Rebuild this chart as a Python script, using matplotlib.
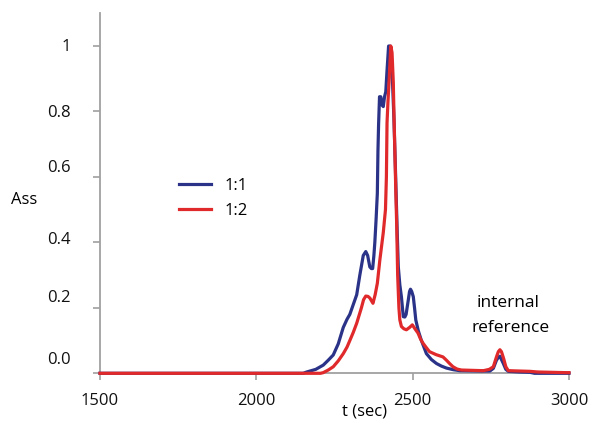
import matplotlib
matplotlib.use('Agg')
import matplotlib.pyplot as plt

plt.rcParams['font.family'] = ['Open Sans', 'DejaVu Sans']

# curve 1:1 (blue)
t_11 = [1500, 2150, 2161, 2190, 2214, 2230, 2246, 2262, 2278, 2290, 2299, 2310,
        2321, 2331, 2342, 2350, 2356, 2363, 2368, 2372, 2376, 2379, 2383, 2387,
        2389, 2391, 2394, 2398, 2402, 2406, 2410, 2414, 2418, 2423, 2428, 2432,
        2436, 2440, 2445, 2450, 2454, 2459, 2464, 2470, 2475, 2479, 2486, 2490,
        2493, 2497, 2502, 2506, 2510, 2518, 2528, 2536, 2544, 2560, 2576, 2592,
        2608, 2630, 2651, 2715, 2747, 2758, 2768, 2775, 2779, 2785, 2790, 2798,
        2806, 2840, 2875, 2890, 3000]
a_11 = [0, 0, 0.004, 0.012, 0.025, 0.04, 0.056, 0.09, 0.14, 0.165, 0.18, 0.21,
        0.24, 0.30, 0.36, 0.372, 0.36, 0.325, 0.32, 0.32, 0.36, 0.40, 0.47, 0.55,
        0.68, 0.76, 0.845, 0.845, 0.82, 0.815, 0.845, 0.86, 0.925, 1.0, 1.0, 0.96,
        0.88, 0.78, 0.62, 0.45, 0.326, 0.27, 0.234, 0.173, 0.172, 0.18, 0.224, 0.25,
        0.257, 0.25, 0.234, 0.2, 0.163, 0.13, 0.10, 0.08, 0.06, 0.042, 0.03, 0.022,
        0.016, 0.011, 0.008, 0.007, 0.007, 0.015, 0.04, 0.05, 0.052, 0.04, 0.03, 0.012,
        0.006, 0.004, 0.003, 0, 0]

# curve 1:2 (red)
t_12 = [1500, 2205, 2214, 2230, 2246, 2262, 2278, 2290, 2299, 2310, 2321, 2336,
        2343, 2350, 2357, 2363, 2368, 2373, 2380, 2387, 2395, 2406, 2413, 2416,
        2418, 2421, 2425, 2430, 2434, 2438, 2440, 2443, 2446, 2449, 2452, 2456,
        2459, 2464, 2472, 2480, 2490, 2499, 2508, 2517, 2525, 2533, 2544, 2554,
        2575, 2597, 2608, 2618, 2629, 2642, 2656, 2690, 2726, 2745, 2758, 2763,
        2768, 2774, 2779, 2784, 2791, 2798, 2806, 2840, 2875, 2900, 2990, 3000]
a_12 = [0, 0, 0.002, 0.01, 0.02, 0.038, 0.06, 0.08, 0.10, 0.125, 0.153, 0.20,
        0.225, 0.236, 0.235, 0.23, 0.222, 0.214, 0.24, 0.275, 0.346, 0.43, 0.5, 0.6,
        0.765, 0.83, 0.9, 1.0, 0.98, 0.89, 0.8, 0.68, 0.56, 0.45, 0.30, 0.2,
        0.163, 0.143, 0.136, 0.133, 0.14, 0.148, 0.135, 0.123, 0.105, 0.092, 0.078, 0.066,
        0.057, 0.05, 0.04, 0.03, 0.02, 0.013, 0.01, 0.009, 0.008, 0.012, 0.02, 0.035,
        0.05, 0.066, 0.072, 0.066, 0.045, 0.02, 0.008, 0.007, 0.006, 0.004, 0.002, 0.002]

x_ticks = [1500, 2000, 2500, 3000]
y_ticks = [0, 0.2, 0.4, 0.6, 0.8, 1.0]
y_labels = ['0.0', '0.2', '0.4', '0.6', '0.8', '1']
# where the y labels sit in the original (slightly off the ticks)
y_label_pos = [0.041, 0.229, 0.407, 0.626, 0.794, 0.996]

blue = '#2b3388'
red = '#e0292b'
grey = '#a0a0a0'

fig = plt.figure(figsize=(5.9, 4.22), dpi=100)
ax = fig.add_axes([0.1695, 0.1154, 0.7949, 0.8531])

ax.plot(t_11, a_11, color=blue, lw=2.3, label='1:1', clip_on=False, zorder=3)
ax.plot(t_12, a_12, color=red, lw=2.3, label='1:2', clip_on=False, zorder=4)

ax.set_xlim(1500, 3000)
ax.set_ylim(0, 1.10)
ax.set_xticks(x_ticks)
ax.set_yticks(y_ticks)
ax.set_yticklabels([''] * len(y_ticks))
for v, lab in zip(y_label_pos, y_labels):
    ax.text(-0.0625, v, lab, transform=ax.get_yaxis_transform(),
            ha='right', va='center', fontsize=12, color='#111111')

for s in ['top', 'right']:
    ax.spines[s].set_visible(False)
for s in ['left', 'bottom']:
    ax.spines[s].set_color(grey)
    ax.spines[s].set_linewidth(1.3)
ax.tick_params(axis='both', direction='out', length=5, width=1.2, color=grey,
               labelsize=12, labelcolor='#111111')
ax.tick_params(axis='x', pad=9)

fig.text(23.7 / 590, 1 - 200 / 422, 'Ass', ha='center', va='center', fontsize=12)
fig.text(364 / 590, 1 - 411 / 422, 't (sec)', ha='center', va='center', fontsize=12)
fig.text(508 / 590, 1 - 303 / 422, 'internal', ha='center', va='center', fontsize=12.5)
fig.text(511 / 590, 1 - 328 / 422, 'reference', ha='center', va='center', fontsize=12.5)

ax.legend(loc='center left', bbox_to_anchor=(179 / 590, 1 - 198.5 / 422),
          bbox_transform=fig.transFigure, frameon=False, fontsize=12,
          borderaxespad=0, borderpad=0, handlelength=1.9, handletextpad=0.85,
          labelspacing=0.55)

fig.savefig('out.png', dpi=100)
